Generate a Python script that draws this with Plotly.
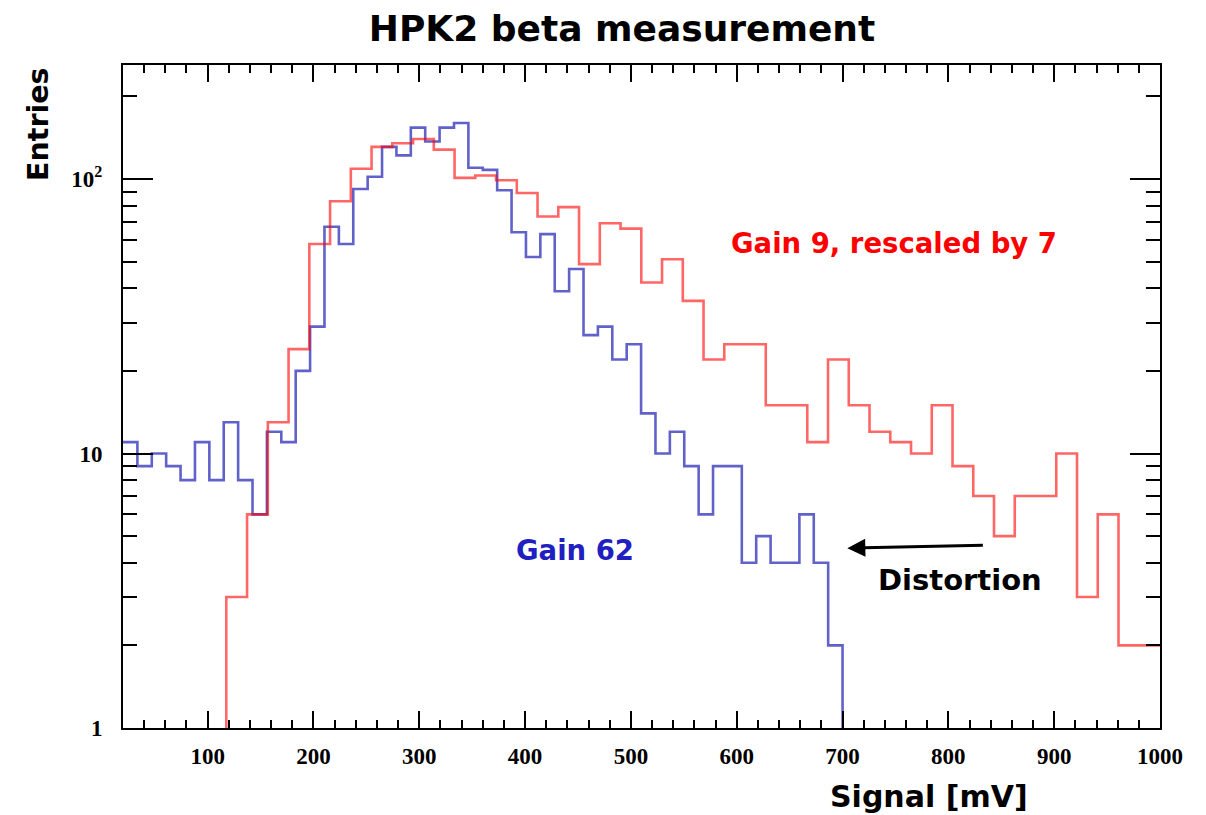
import plotly.graph_objects as go

# ---- data -------------------------------------------------------------
# Gain 62 histogram: 50 bins of 13.6 mV starting at 20 mV
blue_lo = 20.0
blue_width = 13.6
blue_counts = [11, 9, 10, 9, 8, 11, 8, 13, 8, 6,
               12, 11, 20, 29, 67, 58, 92, 102, 131, 122,
               154, 137, 154, 160, 110, 108, 91, 64, 52, 63,
               39, 47, 27, 29, 22, 25, 14, 10, 12, 9,
               6, 9, 9, 4, 5, 4, 4, 6, 4, 2]

# Gain 9 histogram (signal rescaled by 7): bins of 1000/51 mV, first filled bin index 6
red_width = 1000.0 / 51
red_first_bin = 6
red_counts = [3, 6, 13, 24, 58, 83, 109, 131, 135, 140,
              128, 101, 103, 99, 89, 73, 79, 49, 69, 66,
              42, 51, 36, 22, 25, 25, 15, 15, 11, 22,
              15, 12, 11, 10, 15, 9, 7, 5, 7, 7,
              10, 3, 6, 2, 2]

x_range = [20, 1000]
y_log_range = [0, 2.4155]
floor_val = 10 ** -0.5  # below the visible range, used for drops to the axis

x_major = list(range(100, 1001, 100))
y_major = [1, 10, 100]
y_major_text = ["1", "10", "10<sup>2</sup>"]
y_minor = [2, 3, 4, 5, 6, 7, 8, 9, 20, 30, 40, 50, 60, 70, 80, 90, 200]


def step_path(lo, width, counts, xmin, xmax):
    """Histogram outline as points for an 'hv' step line."""
    xs, ys = [], []
    if lo > xmin + 1e-6:
        xs.append(lo)
        ys.append(floor_val)
    for i, c in enumerate(counts):
        xs.append(lo + i * width)
        ys.append(c)
    hi = lo + len(counts) * width
    xs.append(hi)
    ys.append(counts[-1])
    if hi < xmax - 1e-6:
        xs.append(hi)
        ys.append(floor_val)
    return xs, ys


bx, by = step_path(blue_lo, blue_width, blue_counts, *x_range)
rx, ry = step_path(red_first_bin * red_width, red_width, red_counts, *x_range)

fig = go.Figure()
fig.add_trace(go.Scatter(x=bx, y=by, mode="lines", line_shape="hv",
                         line=dict(color="rgba(0,0,170,0.62)", width=2.6),
                         name="Gain 62", showlegend=False, hoverinfo="skip"))
fig.add_trace(go.Scatter(x=rx, y=ry, mode="lines", line_shape="hv",
                         line=dict(color="rgba(255,0,0,0.6)", width=2.6),
                         name="Gain 9", showlegend=False, hoverinfo="skip",
                         xaxis="x2", yaxis="y2"))

tick_font = dict(family="Liberation Serif", size=23, color="black", weight="bold")
label_font = "DejaVu Sans"

common_x = dict(range=x_range, showline=True, linecolor="black", linewidth=2,
                ticks="inside", ticklen=17, tickwidth=2, tickcolor="black",
                tickmode="array", tickvals=x_major, showgrid=False, zeroline=False,
                minor=dict(ticks="inside", dtick=20, tick0=0, ticklen=8,
                           tickwidth=2, tickcolor="black", showgrid=False))
common_y = dict(type="log", range=y_log_range, showline=True, linecolor="black",
                linewidth=2, ticks="inside", ticklen=30, tickwidth=2,
                tickcolor="black", tickmode="array", tickvals=y_major,
                showgrid=False, zeroline=False,
                minor=dict(ticks="inside", tickmode="array", tickvals=y_minor,
                           ticklen=14, tickwidth=2, tickcolor="black",
                           showgrid=False))

fig.update_layout(
    width=1206, height=815,
    margin=dict(l=123, r=46, t=65, b=87),
    paper_bgcolor="white", plot_bgcolor="white",
    xaxis=dict(**common_x, tickfont=tick_font, ticklabelstandoff=6),
    yaxis=dict(**common_y, ticktext=y_major_text, tickfont=tick_font,
               ticklabelstandoff=14),
    xaxis2=dict(**common_x, overlaying="x", side="top", anchor="y2",
                showticklabels=False),
    yaxis2=dict(**common_y, overlaying="y", side="right", anchor="x2",
                showticklabels=False),
    title=dict(text="HPK2 beta measurement", x=622 / 1206, xanchor="center",
               y=1 - 28 / 815, yanchor="middle",
               font=dict(family=label_font, size=36, color="black", weight="bold")),
)

annotations = [
    dict(text="Entries", xref="paper", yref="paper", x=-0.082, y=1.0,
         xanchor="center", yanchor="top", textangle=-90, showarrow=False,
         font=dict(family=label_font, size=28.5, color="black", weight="bold")),
    dict(text="Signal [mV]", xref="paper", yref="paper", x=0.875, y=-0.104,
         xanchor="right", yanchor="middle", showarrow=False,
         font=dict(family=label_font, size=30, color="black", weight="bold")),
    dict(text="Gain 9, rescaled by 7", xref="x", yref="y", x=749, y=1.7667,
         xanchor="center", yanchor="middle", showarrow=False,
         font=dict(family=label_font, size=27.5, color="#ff0000", weight="bold")),
    dict(text="Gain 62", xref="x", yref="y", x=447, y=0.6477,
         xanchor="center", yanchor="middle", showarrow=False,
         font=dict(family=label_font, size=27.5, color="#2020c0", weight="bold")),
    dict(text="Distortion", xref="x", yref="y", x=811, y=0.5384,
         xanchor="center", yanchor="middle", showarrow=False,
         font=dict(family=label_font, size=29, color="black", weight="bold")),
    # arrow pointing at the clipped tail of the gain-62 spectrum
    dict(text="", xref="x", yref="y", x=704.5, y=0.655,
         axref="x", ayref="y", ax=834, ay=0.666, showarrow=True,
         arrowhead=2, arrowsize=1.2, arrowwidth=3, arrowcolor="black"),
]
fig.update_layout(annotations=annotations)

fig.write_html("out.html")
